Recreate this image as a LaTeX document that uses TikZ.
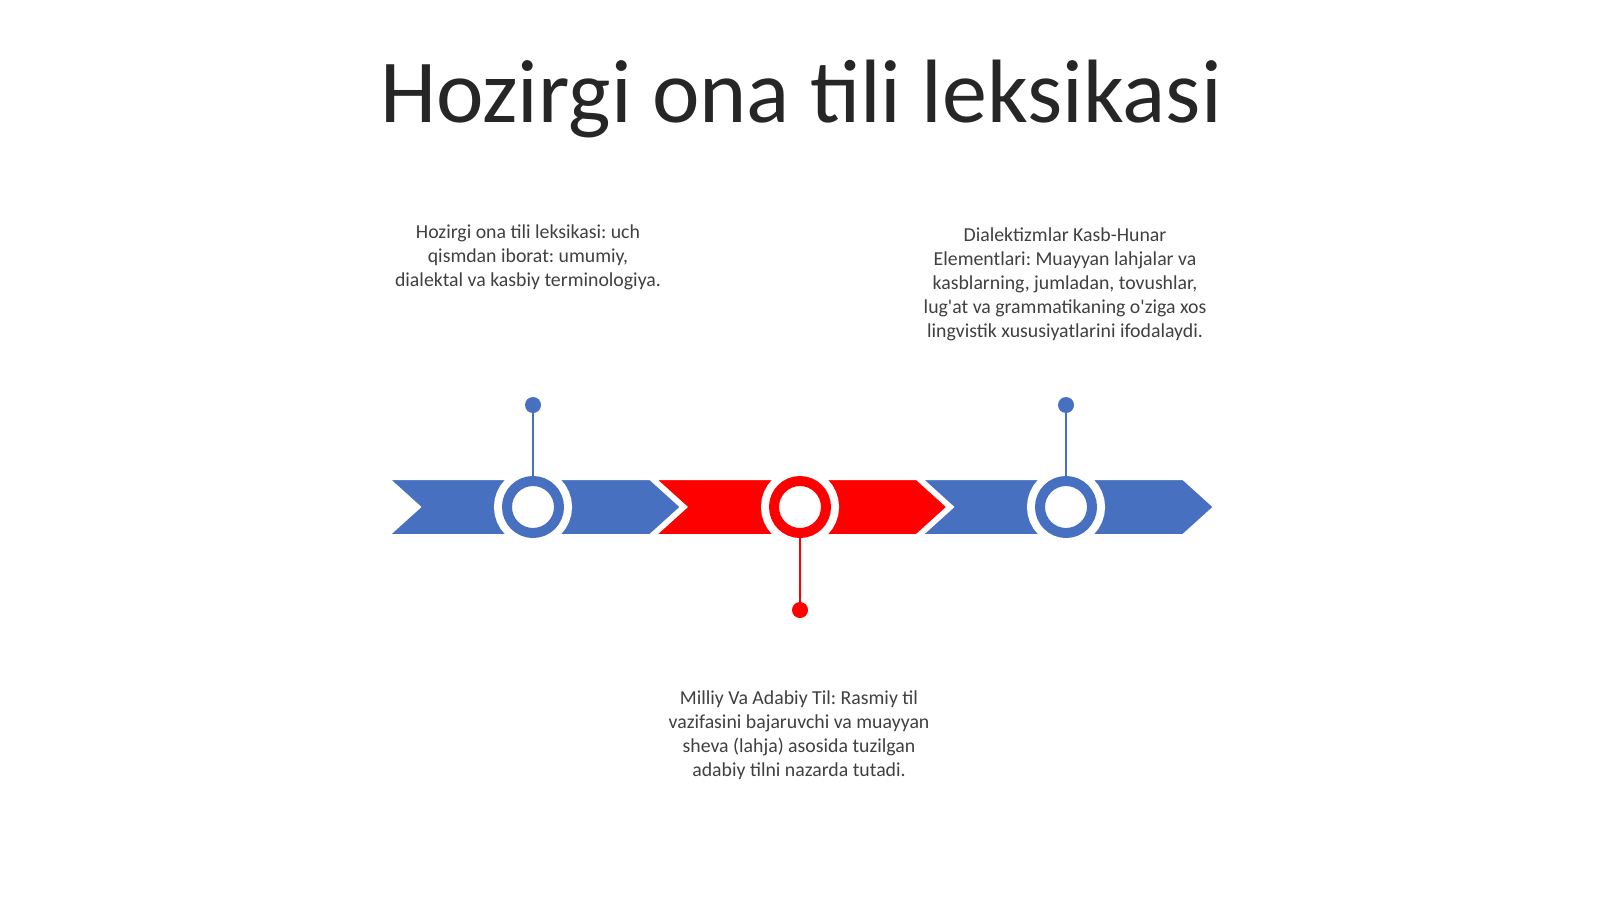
\documentclass[tikz,border=0pt]{standalone}
\usepackage{fontspec}
\setmainfont{Carlito}
\definecolor{tlblue}{RGB}{72,112,192}
\definecolor{tlred}{RGB}{255,0,0}
\definecolor{tltext}{RGB}{64,64,64}
\definecolor{tltitle}{RGB}{38,38,38}
\tikzset{
  ring/.style={circle,draw=#1,fill=white,line width=10pt,minimum size=52pt,inner sep=0pt,
    preaction={draw=white,line width=26pt}},
  pin/.style={circle,fill=#1,inner sep=0pt,minimum size=16pt},
  stem/.style={draw=#1,line width=2.5pt},
  note/.style={text=tltext,align=center,anchor=north,font=\fontsize{19.8}{24}\selectfont}
}
\frenchspacing
\begin{document}
\begin{tikzpicture}[x=1pt,y=-1pt]
  \useasboundingbox[fill=white] (0,0) rectangle (1600,899);
  \node[text=tltitle,font=\fontsize{90}{100}\selectfont] (title) at (801,99) {Hozirgi ona tili leksikasi};
  % chevrons
  \foreach \x/\c in {389/tlblue,655.5/tlred,922/tlblue}
    \filldraw[fill=\c,draw=white,line width=2pt] (\x,479) -- ++(261,0) -- ++(31,28) -- ++(-31,28)
      -- ++(-261,0) -- ++(31,-28) -- cycle;
  \node[ring=tlblue] (r1) at (533,507) {};
  \node[ring=tlred] (r2) at (800,507) {};
  \node[ring=tlblue] (r3) at (1066,507) {};
  \node[pin=tlblue] (p1) at (533,405) {};
  \node[pin=tlred] (p2) at (800,610) {};
  \node[pin=tlblue] (p3) at (1066,405) {};
  \draw[stem=tlblue] (p1) -- (r1);
  \draw[stem=tlred] (p2) -- (r2);
  \draw[stem=tlblue] (p3) -- (r3);
  % labels
  \node[note] (n1) at (528,221) {Hozirgi ona tili leksikasi: uch\\qismdan iborat: umumiy,\\dialektal va kasbiy terminologiya.};
  \node[note] (n3) at (1065,224) {Dialektizmlar Kasb-Hunar\\Elementlari: Muayyan lahjalar va\\kasblarning, jumladan, tovushlar,\\lug\textquotesingle at va grammatikaning o\textquotesingle ziga xos\\lingvistik xususiyatlarini ifodalaydi.};
  \node[note] (n2) at (799,687) {Milliy Va Adabiy Til: Rasmiy til\\vazifasini bajaruvchi va muayyan\\sheva (lahja) asosida tuzilgan\\adabiy tilni nazarda tutadi.};
\end{tikzpicture}
\end{document}
